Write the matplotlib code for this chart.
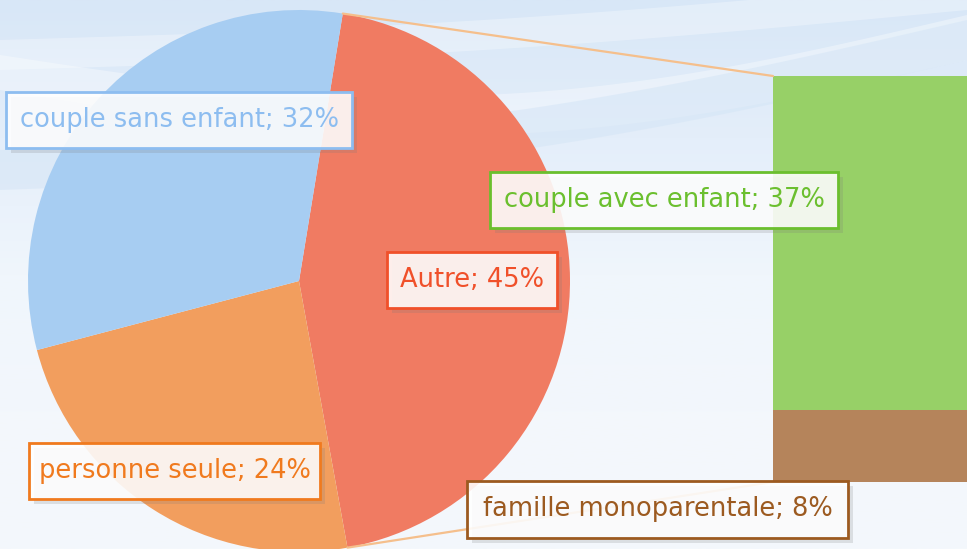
import numpy as np
import matplotlib
matplotlib.use('Agg')
import matplotlib.pyplot as plt
from matplotlib.patches import Rectangle, ConnectionPatch

# pie data (Autre = couple avec enfant + famille monoparentale)
pie_labels = ["Autre", "personne seule", "couple sans enfant"]
pie_values = [45, 24, 32]
pie_colors = ["#f07b62", "#f29e5e", "#a7cdf2"]
pie_text = ["#f0502a", "#f07a1e", "#8dbdf0"]

# bar data (breakdown of Autre)
bar_labels = ["famille monoparentale", "couple avec enfant"]
bar_values = [8, 37]
bar_colors = ["#b5845b", "#97d067"]
bar_text = ["#9c5a20", "#6bbf2e"]

W, H = 967, 549
fig = plt.figure(figsize=(W / 100, H / 100), dpi=100)

# background
bg = fig.add_axes([0, 0, 1, 1], zorder=0)
bg.set_xlim(0, W)
bg.set_ylim(0, H)
bg.axis('off')
grad = np.linspace(0, 1, 200).reshape(-1, 1)
bg.imshow(grad, extent=(0, W, 0, H), cmap=matplotlib.colors.LinearSegmentedColormap.from_list(
    "bgc", ["#f4f8fc", "#f3f7fc", "#f0f6fc", "#e4eefa", "#d8e7f7"]), origin='lower', aspect='auto')
xs = np.linspace(0, W, 400)
u = xs / W
# soft wavy bands
top1 = H - 55 - 60 * np.sin(np.pi * u) + 40 * u
bot1 = top1 - 35 - 10 * u
bg.fill_between(xs, bot1, top1, color="white", alpha=0.35, lw=0)
top2 = H - 150 - 30 * np.sin(np.pi * u) + 130 * u
bot2 = top2 - 40
bg.fill_between(xs, bot2, top2, color="#d4e5f6", alpha=0.55, lw=0)
top3 = H - 40 - 10 * np.sin(np.pi * u) + 60 * u
bot3 = top3 - 30
bg.fill_between(xs, bot3, top3, color="white", alpha=0.3, lw=0)

# stacked bar
bax = fig.add_axes([773 / W, 67 / H, 300 / W, 406 / H], zorder=1)
bottom = 0
for v, c in zip(bar_values, bar_colors):
    bax.bar(0, v, width=1, bottom=bottom, color=c, linewidth=0)
    bottom += v
bax.set_xlim(-0.5, 0.5)
bax.set_ylim(0, sum(bar_values))
bax.axis('off')

# pie
ax = fig.add_axes([0, 0, 1, 1], zorder=2)
ax.patch.set_visible(False)
cx, cy, r = 299, 268, 271
wedges, _ = ax.pie(pie_values, colors=pie_colors, startangle=80.7, counterclock=False,
                   center=(cx, cy), radius=r, wedgeprops=dict(linewidth=0))
ax.set_xlim(0, W)
ax.set_ylim(0, H)
ax.set_aspect('auto')
ax.axis('off')

# connector lines
w0 = wedges[0]
for th, yb in [(w0.theta2, sum(bar_values)), (w0.theta1, 0)]:
    px = cx + r * np.cos(np.radians(th))
    py = cy + r * np.sin(np.radians(th))
    con = ConnectionPatch(xyA=(-0.5, yb), coordsA=bax.transData, xyB=(px, py),
                          coordsB=ax.transData, color="#f5bf8c", linewidth=1.6, zorder=3)
    ax.add_artist(con)


def label_box(x0, y0, x1, y1, text, col):
    # pixel coordinates measured from the top
    b0, b1 = H - y1, H - y0
    ax.add_patch(Rectangle((x0 + 5, b0 - 5), x1 - x0, b1 - b0, color="#7a7a7a",
                           alpha=0.2, lw=0, zorder=5, clip_on=False))
    ax.add_patch(Rectangle((x0, b0), x1 - x0, b1 - b0, facecolor="white", alpha=0.88,
                           lw=0, zorder=6, clip_on=False))
    ax.add_patch(Rectangle((x0, b0), x1 - x0, b1 - b0, facecolor="none", edgecolor=col,
                           lw=2.0, zorder=7, clip_on=False))
    ax.text((x0 + x1) / 2, (b0 + b1) / 2, text, color=col, fontsize=18.5, family="DejaVu Sans",
            ha="center", va="center", zorder=8)


boxes = {
    "Autre": (387, 252, 557, 308),
    "personne seule": (29, 443, 320, 499),
    "couple sans enfant": (6, 92, 352, 148),
}
for lab, v, c in zip(pie_labels, pie_values, pie_text):
    label_box(*boxes[lab], f"{lab}; {v}%", c)

bboxes = {
    "famille monoparentale": (467, 481, 848, 538),
    "couple avec enfant": (490, 172, 838, 228),
}
for lab, v, c in zip(bar_labels, bar_values, bar_text):
    label_box(*bboxes[lab], f"{lab}; {v}%", c)

fig.savefig("out.png", dpi=100)
